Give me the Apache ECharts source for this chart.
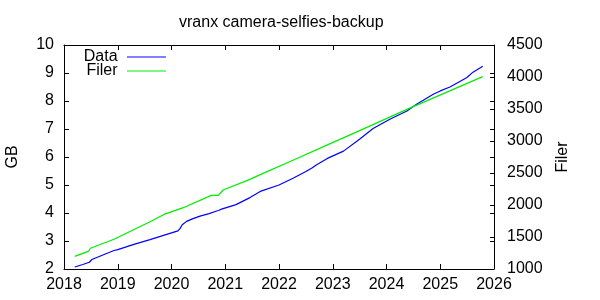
<!DOCTYPE html>
<html>
<head>
<meta charset="utf-8">
<script src="https://cdn.jsdelivr.net/npm/echarts@6/dist/echarts.min.js"></script>
<style>html,body{margin:0;padding:0;background:#fff}#c{width:600px;height:300px}</style>
</head>
<body>
<div id="c"></div>
<script>
// Data (decimal year, value)
const dataYears = [2018.20,2018.35,2018.47,2018.52,2018.70,2018.93,2019.00,2019.30,2019.60,2019.97,2020.12,2020.16,2020.20,2020.28,2020.40,2020.53,2020.70,2020.84,2020.88,2020.93,2021.20,2021.46,2021.65,2022.00,2022.27,2022.50,2022.62,2022.70,2022.90,2023.20,2023.51,2023.75,2024.07,2024.38,2024.56,2024.87,2025.00,2025.18,2025.49,2025.61,2025.79];
const dataGB    = [2.07,2.16,2.24,2.34,2.48,2.66,2.69,2.88,3.05,3.27,3.36,3.45,3.58,3.70,3.80,3.89,3.98,4.07,4.09,4.14,4.30,4.55,4.77,5.00,5.25,5.48,5.62,5.72,5.95,6.21,6.65,7.02,7.36,7.64,7.88,8.24,8.36,8.50,8.83,9.03,9.24];
const filerYears = [2018.20,2018.46,2018.49,2018.93,2019.60,2019.86,2020.22,2020.74,2020.87,2020.96,2021.46,2021.65,2022.27,2022.89,2023.51,2024.38,2025.79];
const filerCount = [1197,1280,1325,1464,1739,1853,1958,2151,2151,2234,2400,2475,2703,2935,3166,3494,4006];
const xTicks = [2018,2019,2020,2021,2022,2023,2024,2025,2026];

const FONT = 'Liberation Sans';
const FS = 16;
const chart = echarts.init(document.getElementById('c'), null, {renderer:'canvas'});
const pairs = (xs, ys) => xs.map((x, i) => [x, ys[i]]);
const txt = {color:'#000', fontFamily:FONT, fontSize:FS};

chart.setOption({
  animation:false,
  backgroundColor:'#fff',
  title:{text:'vranx camera-selfies-backup', left:179, top:15, padding:0, textStyle:{...txt, fontWeight:'normal'}},
  grid:{left:64, right:106, top:45, bottom:31, containLabel:false, outerBoundsMode:'none'},
  legend:[
    {data:['Data'], orient:'vertical', align:'right', right:434, top:49, padding:0, icon:'rect', itemWidth:39, itemHeight:1.2,
     formatter:n=>n+' ', textStyle:txt},
    {data:['Filer'], orient:'vertical', align:'right', right:434, top:63, padding:0, icon:'rect', itemWidth:39, itemHeight:1.2,
     formatter:n=>n+' ', textStyle:txt}
  ],
  xAxis:[
    {type:'value', min:xTicks[0], max:xTicks[xTicks.length-1], interval:1, position:'bottom',
     axisLine:{lineStyle:{color:'#000', width:1}}, axisTick:{inside:true, length:5, lineStyle:{color:'#000'}},
     axisLabel:{...txt, margin:8, formatter:v=>String(v)}, splitLine:{show:false}},
    {type:'value', min:xTicks[0], max:xTicks[xTicks.length-1], interval:1, position:'top',
     axisLine:{lineStyle:{color:'#000', width:1}}, axisTick:{inside:true, length:5, lineStyle:{color:'#000'}},
     axisLabel:{show:false}, splitLine:{show:false}}
  ],
  yAxis:[
    {type:'value', min:2, max:10, interval:1, position:'left', name:'GB', nameLocation:'middle', nameGap:43,
     nameTextStyle:txt,
     axisLine:{show:true, lineStyle:{color:'#000', width:1}}, axisTick:{inside:true, length:5, lineStyle:{color:'#000'}},
     axisLabel:{...txt, margin:10, formatter:v=>String(v)}, splitLine:{show:false}},
    {type:'value', min:1000, max:4500, interval:500, position:'right', name:'Filer', nameLocation:'middle', nameGap:61,
     nameTextStyle:txt,
     axisLine:{show:true, lineStyle:{color:'#000', width:1}}, axisTick:{inside:true, length:4, lineStyle:{color:'#000'}},
     axisLabel:{...txt, margin:13, formatter:v=>String(v)}, splitLine:{show:false}},
    {type:'value', min:2, max:10, interval:1, position:'right',
     axisLine:{show:false}, axisTick:{inside:true, length:4, lineStyle:{color:'#000'}},
     axisLabel:{show:false}, splitLine:{show:false}}
  ],
  series:[
    {name:'Data', type:'line', xAxisIndex:0, yAxisIndex:0, data:pairs(dataYears, dataGB),
     symbol:'none', lineStyle:{color:'#0000ff', width:1.2}, itemStyle:{color:'#0000ff'}},
    {name:'Filer', type:'line', xAxisIndex:0, yAxisIndex:1, data:pairs(filerYears, filerCount),
     symbol:'none', lineStyle:{color:'#00ee00', width:1.2}, itemStyle:{color:'#00ee00'}}
  ]
});
</script>
</body>
</html>
